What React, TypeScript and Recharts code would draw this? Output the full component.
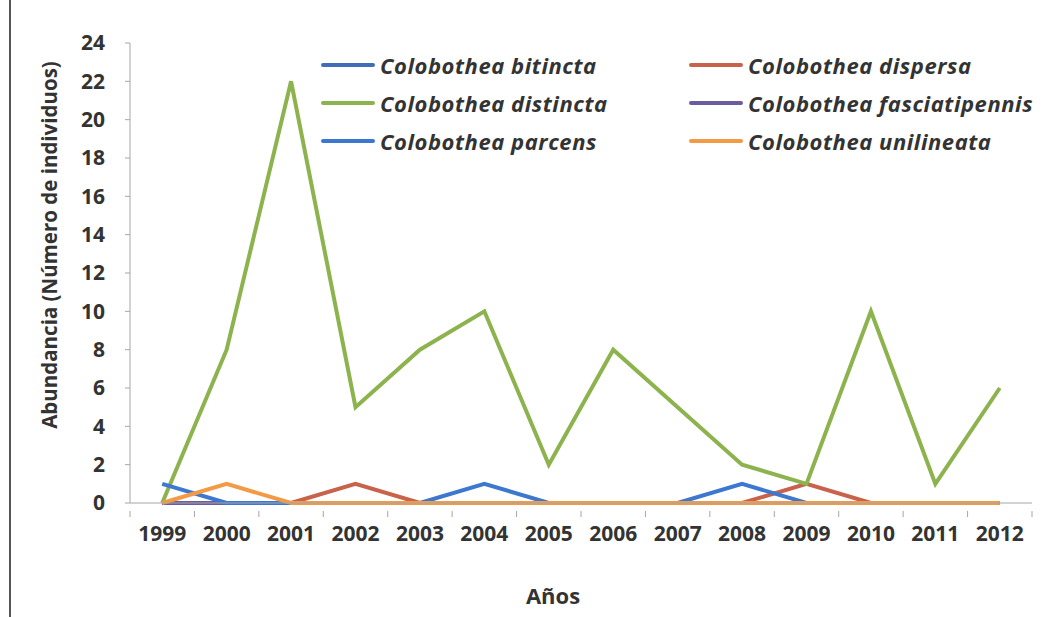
import React from 'react';
import { LineChart, Line, XAxis, YAxis, Legend } from 'recharts';

const years = ['1999', '2000', '2001', '2002', '2003', '2004', '2005', '2006', '2007', '2008', '2009', '2010', '2011', '2012'];
const bitincta = [0, 0, 0, 0, 0, 0, 0, 0, 0, 0, 0, 0, 0, 0];
const dispersa = [0, 0, 0, 1, 0, 0, 0, 0, 0, 0, 1, 0, 0, 0];
const distincta = [0, 8, 22, 5, 8, 10, 2, 8, 5, 2, 1, 10, 1, 6];
const fasciatipennis = [0, 0, 0, 0, 0, 0, 0, 0, 0, 0, 0, 0, 0, 0];
const parcens = [1, 0, 0, 0, 0, 1, 0, 0, 0, 1, 0, 0, 0, 0];
const unilineata = [0, 1, 0, 0, 0, 0, 0, 0, 0, 0, 0, 0, 0, 0];
const yTicks = [0, 2, 4, 6, 8, 10, 12, 14, 16, 18, 20, 22, 24];

const series = [
  { key: 'bitincta', name: 'Colobothea bitincta', color: '#3F6DB8', values: bitincta },
  { key: 'dispersa', name: 'Colobothea dispersa', color: '#C8624A', values: dispersa },
  { key: 'distincta', name: 'Colobothea distincta', color: '#8DB34E', values: distincta },
  { key: 'fasciatipennis', name: 'Colobothea fasciatipennis', color: '#6A5C9E', values: fasciatipennis },
  { key: 'parcens', name: 'Colobothea parcens', color: '#3C78CF', values: parcens },
  { key: 'unilineata', name: 'Colobothea unilineata', color: '#F39A45', values: unilineata },
];

const data = years.map((y, i) => {
  const row: any = { year: y };
  series.forEach((s) => { row[s.key] = s.values[i]; });
  return row;
});

const FONT = '"Open Sans", Lato, sans-serif';
const TXT = '#333';
const W = 1054;
const H = 617;
const M = { top: 43, right: 22, bottom: 0, left: 0 };
const Y_W = 130;
const X_H = 114;
const halfBand = (W - M.left - M.right - Y_W) / years.length / 2;

const XTick = (props: any) => {
  const { x, y, payload, index } = props;
  const last = index === years.length - 1;
  return (
    <g>
      <line x1={x - halfBand} x2={x - halfBand} y1={y} y2={y + 6} stroke="#A6A6A6" />
      {last && <line x1={x + halfBand} x2={x + halfBand} y1={y} y2={y + 6} stroke="#A6A6A6" />}
      <text x={x} y={y + 30} textAnchor="middle" fill={TXT} fontSize={21} fontWeight={700} fontFamily={FONT}>
        {payload.value}
      </text>
    </g>
  );
};

const legendPos = [
  { x: 321, y: 65 }, { x: 689, y: 65 },
  { x: 321, y: 103 }, { x: 689, y: 103 },
  { x: 321, y: 141 }, { x: 689, y: 141 },
];

const renderLegend = () => (
  <div style={{ position: 'relative', width: W, height: 0 }}>
    {series.map((s, i) => (
      <div
        key={s.key}
        style={{
          position: 'absolute', left: legendPos[i].x, top: legendPos[i].y - 16,
          display: 'flex', alignItems: 'center', height: 32, whiteSpace: 'nowrap',
        }}
      >
        <div style={{ width: 54, height: 4, background: s.color, marginRight: 5, borderRadius: 2 }} />
        <span style={{ fontFamily: FONT, fontSize: 22, fontWeight: 700, fontStyle: 'italic', color: TXT, letterSpacing: 0.55 }}>{s.name}</span>
      </div>
    ))}
  </div>
);

export default function App() {
  return (
    <div style={{ position: 'absolute', left: 0, top: 0, width: W, height: H, background: '#fff', overflow: 'hidden' }}>
      <div style={{ position: 'absolute', left: 9, top: 0, width: 2, height: H, background: '#555' }} />
      <LineChart width={W} height={H} data={data} margin={M}>
        <XAxis
          dataKey="year"
          height={X_H}
          padding={{ left: halfBand, right: halfBand }}
          tickLine={false}
          axisLine={{ stroke: '#A6A6A6' }}
          tick={<XTick />}
          interval={0}
          label={{ value: 'Años', position: 'insideBottom', offset: 13, dx: -28, fill: TXT, fontSize: 22, fontWeight: 700, fontFamily: FONT }}
        />
        <YAxis
          width={Y_W}
          domain={[0, 24]}
          ticks={yTicks}
          interval={0}
          tickSize={5}
          tickMargin={20}
          tickLine={{ stroke: '#A6A6A6' }}
          axisLine={{ stroke: '#A6A6A6' }}
          tick={{ fill: TXT, fontSize: 21, fontWeight: 700, fontFamily: FONT }}
          label={{ value: 'Abundancia (Número de individuos)', angle: -90, position: 'insideLeft', offset: 50, dy: -28, fill: TXT, fontSize: 20.5, fontWeight: 700, fontFamily: FONT, style: { textAnchor: 'middle' } }}
        />
        <Legend content={renderLegend} verticalAlign="top" wrapperStyle={{ top: 0, left: 0 }} />
        {series.map((s) => (
          <Line
            key={s.key}
            type="linear"
            dataKey={s.key}
            name={s.name}
            stroke={s.color}
            strokeWidth={4}
            dot={false}
            activeDot={false}
            isAnimationActive={false}
          />
        ))}
      </LineChart>
    </div>
  );
}
